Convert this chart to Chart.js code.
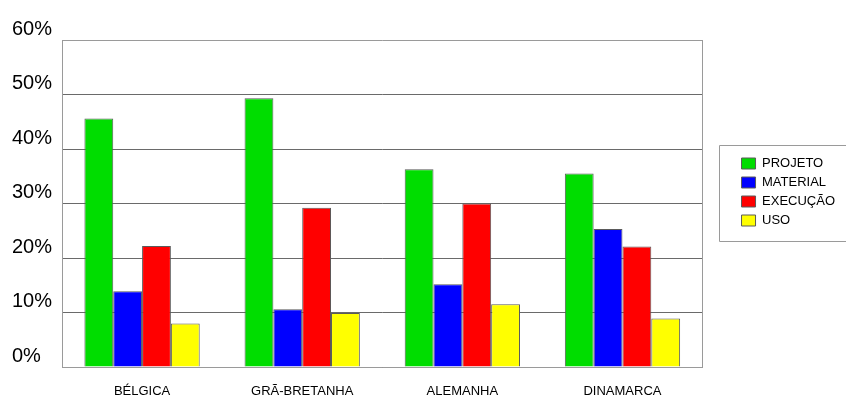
<!DOCTYPE html>
<html>
<head>
<meta charset="utf-8">
<script src="https://cdn.jsdelivr.net/npm/chart.js@4/dist/chart.umd.min.js"></script>
<style>
html,body{margin:0;padding:0;background:#fff;}
canvas{display:block;}
</style>
</head>
<body>
<canvas id="c" width="846" height="397"></canvas>
<script>
const categories = ['BÉLGICA', 'GRÃ-BRETANHA', 'ALEMANHA', 'DINAMARCA'];
const seriesNames = ['PROJETO', 'MATERIAL', 'EXECUÇÃO', 'USO'];
const projeto = [45.6, 49.3, 36.3, 35.5];
const material = [13.9, 10.6, 15.2, 25.3];
const execucao = [22.2, 29.2, 30.0, 22.1];
const uso = [8.0, 9.9, 11.5, 8.9];
const yTicks = [0, 10, 20, 30, 40, 50, 60];
const colors = ['#00dd00', '#0000ff', '#ff0000', '#ffff00'];

const FONT = '"Liberation Sans", Arial, sans-serif';

const legendBox = {
  id: 'legendBox',
  afterDraw(chart) {
    const lg = chart.legend;
    if (!lg || !lg.legendHitBoxes || !lg.legendHitBoxes.length) return;
    const hb = lg.legendHitBoxes;
    const first = hb[0], last = hb[hb.length - 1];
    const ctx = chart.ctx;
    const x0 = Math.round(first.left - 23) + 0.5;
    const y0 = Math.round(first.top - 12) + 0.5;
    const y1 = Math.round(last.top + last.height + 14) + 0.5;
    ctx.save();
    ctx.strokeStyle = '#9a9a9a';
    ctx.lineWidth = 1;
    ctx.beginPath();
    ctx.moveTo(850, y0);
    ctx.lineTo(x0, y0);
    ctx.lineTo(x0, y1);
    ctx.lineTo(850, y1);
    ctx.stroke();
    ctx.restore();
  }
};

const bg = {
  id: 'bg',
  beforeDraw(chart) {
    const ctx = chart.ctx;
    ctx.save();
    ctx.fillStyle = '#fff';
    ctx.fillRect(0, 0, chart.width, chart.height);
    ctx.restore();
  }
};

const seriesData = [projeto, material, execucao, uso];

new Chart(document.getElementById('c'), {
  type: 'bar',
  data: {
    labels: categories,
    datasets: seriesNames.map((n, i) => ({
      label: n,
      data: seriesData[i],
      backgroundColor: colors[i],
      borderColor: '#5a5a5a',
      borderWidth: 1,
      barPercentage: 1,
      categoryPercentage: 0.72
    }))
  },
  options: {
    responsive: false,
    devicePixelRatio: 1,
    animation: false,
    layout: { padding: { left: 12, top: 40, right: 1, bottom: 0 } },
    plugins: {
      tooltip: { enabled: false },
      title: { display: false },
      legend: {
        display: true,
        position: 'right',
        align: 'start',
        title: { display: true, text: ' ', color: 'rgba(0,0,0,0)', font: { size: 10, lineHeight: 1 }, padding: { top: 51, bottom: 50 } },
        labels: {
          boxWidth: 14,
          boxHeight: 11,
          padding: 6,
          color: '#000',
          font: { family: FONT, size: 13 }
        }
      }
    },
    scales: {
      x: {
        grid: { display: false, drawTicks: false },
        border: { display: true, color: '#9a9a9a', width: 1 },
        ticks: { color: '#000', font: { family: FONT, size: 13 }, padding: 17, maxRotation: 0 },
        afterFit(s) { s.height = 30; }
      },
      y: {
        min: 0, max: 60,
        afterBuildTicks(s) { s.ticks = yTicks.map(v => ({ value: v })); },
        ticks: {
          callback: v => v + '%',
          color: '#000',
          font: { family: FONT, size: 20 },
          crossAlign: 'far',
          labelOffset: -11,
          padding: 0
        },
        grid: {
          drawTicks: false,
          color: c => (c.tick && c.tick.value === 60) ? '#9a9a9a' : '#6a6a6a',
          lineWidth: 1
        },
        border: { display: true, color: '#9a9a9a', width: 1 },
        afterFit(s) { s.width = 50; }
      },
      y2: {
        type: 'linear',
        position: 'right',
        display: true,
        min: 0, max: 60,
        grid: { display: false, drawTicks: false },
        ticks: { display: false },
        border: { display: true, color: '#9a9a9a', width: 1 },
        afterFit(s) { s.width = 33; }
      }
    }
  },
  plugins: [bg, legendBox]
});
</script>
</body>
</html>
